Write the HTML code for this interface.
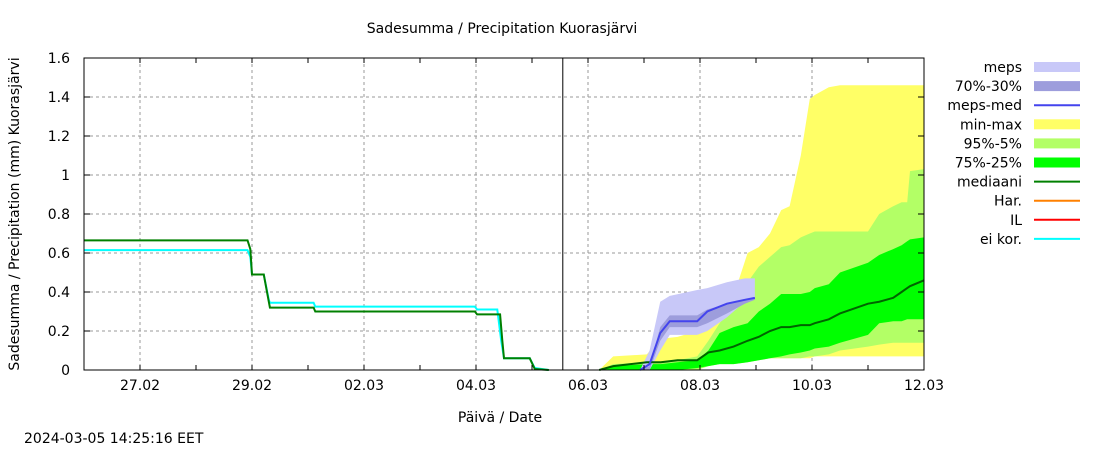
<!DOCTYPE html>
<html><head><meta charset="utf-8"><style>
body{margin:0;background:#fff;}
svg{display:block;font-family:"DejaVu Sans","Liberation Sans",sans-serif;}
</style></head><body>
<svg id="c" width="1100" height="450" viewBox="0 0 1100 450">
<rect width="1100" height="450" fill="#fff"/>
<g id="grid"></g>
<g id="bands"></g>
<g id="lines"></g>
<g id="axes"></g>
<g id="legend"></g>
<text x="502" y="33" font-size="14" text-anchor="middle">Sadesumma / Precipitation  Kuorasjärvi</text>
<text x="500" y="422" font-size="14" text-anchor="middle">Päivä / Date</text>
<text transform="translate(19,214) rotate(-90)" font-size="14" text-anchor="middle">Sadesumma / Precipitation (mm)  Kuorasjärvi</text>
<text x="24" y="443" font-size="14">2024-03-05 14:25:16 EET</text>
</svg>
<script>
// days since 26.02 00:00
const xTickLabels=["27.02","29.02","02.03","04.03","06.03","08.03","10.03","12.03"];
const xTickDays=[1,3,5,7,9,11,13,15];
const yTicks=[0,0.2,0.4,0.6,0.8,1,1.2,1.4,1.6];
const yTickLabels=["0","0.2","0.4","0.6","0.8","1","1.2","1.4","1.6"];
const nowDay=8.55;
const medDays=[0,2.92,2.97,3.0,3.21,3.3,3.32,4.1,4.13,6.98,7.02,7.43,7.47,7.5,7.96,8.05,8.3];
const medVals=[0.665,0.665,0.62,0.49,0.49,0.35,0.32,0.32,0.30,0.30,0.285,0.285,0.15,0.06,0.06,0.005,0];
const eiDays=[0,2.92,2.97,3.0,3.21,3.3,3.32,4.1,4.13,6.98,7.02,7.38,7.45,7.5,7.96,8.05,8.3];
const eiVals=[0.615,0.615,0.58,0.49,0.49,0.36,0.345,0.345,0.325,0.325,0.31,0.31,0.15,0.06,0.06,0.01,0];
const fDays=[9.2,9.45,10.05,10.3,10.6,10.95,11.15,11.35,11.6,11.85,12.05,12.25,12.45,12.6,12.8,12.96,13.05,13.3,13.5,14.0,14.2,14.45,14.6,14.7,14.75,15];
const maxVals=[0,0.07,0.08,0.16,0.17,0.2,0.25,0.3,0.38,0.6,0.63,0.7,0.82,0.84,1.1,1.39,1.41,1.45,1.46,1.46,1.46,1.46,1.46,1.46,1.46,1.46];
const minVals=[0,0,0,0,0,0,0.05,0.05,0.05,0.06,0.06,0.06,0.06,0.06,0.06,0.06,0.07,0.07,0.07,0.07,0.07,0.07,0.07,0.07,0.07,0.07];
const p95Vals=[0,0.03,0.04,0.04,0.05,0.07,0.15,0.24,0.33,0.45,0.53,0.58,0.63,0.64,0.68,0.7,0.71,0.71,0.71,0.71,0.8,0.84,0.86,0.86,1.02,1.03];
const p5Vals=[0,0,0,0,0,0,0.02,0.03,0.03,0.04,0.05,0.06,0.06,0.06,0.06,0.07,0.07,0.08,0.1,0.12,0.13,0.14,0.14,0.14,0.14,0.14];
const p75Vals=[0,0.02,0.03,0.03,0.04,0.05,0.1,0.19,0.22,0.24,0.3,0.34,0.39,0.39,0.39,0.4,0.42,0.44,0.5,0.55,0.59,0.62,0.64,0.66,0.67,0.68];
const p25Vals=[0,0,0,0,0,0.01,0.02,0.03,0.03,0.04,0.05,0.06,0.07,0.08,0.09,0.1,0.11,0.12,0.14,0.18,0.24,0.25,0.25,0.26,0.26,0.26];
const fMedVals=[0,0.02,0.04,0.04,0.05,0.05,0.09,0.1,0.12,0.15,0.17,0.2,0.22,0.22,0.23,0.23,0.24,0.26,0.29,0.34,0.35,0.37,0.4,0.42,0.43,0.46];
const mDays=[9.93,10.1,10.29,10.46,10.95,11.13,11.48,11.8,11.98];
const mMaxVals=[0,0.1,0.35,0.38,0.41,0.42,0.45,0.47,0.47];
const mMinVals=[0,0,0.1,0.18,0.18,0.2,0.27,0.35,0.37];
const m70Vals=[0,0.02,0.22,0.28,0.28,0.31,0.34,0.36,0.37];
const m30Vals=[0,0,0.15,0.22,0.22,0.24,0.29,0.34,0.36];
const mMedVals=[0,0.03,0.19,0.25,0.25,0.3,0.34,0.36,0.37];

const NS="http://www.w3.org/2000/svg";
const X0=84,X1=924,Y0=370,Y1=58;
const xs=d=>X0+d*(X1-X0)/15;
const ys=v=>Y0-v*(Y0-Y1)/1.6;
function mk(t,a,p){const e=document.createElementNS(NS,t);for(const k in a)e.setAttribute(k,a[k]);document.getElementById(p).appendChild(e);return e;}
xTickDays.forEach((d,i)=>{
 if(d<15){const g=mk('line',{x1:xs(d),x2:xs(d),y1:Y1,y2:Y0,stroke:'#999','stroke-dasharray':'3,3'},'grid');
 
 }
 const t=mk('text',{x:xs(d),y:Y0+20,'font-size':14,'text-anchor':'middle'},'axes');t.textContent=xTickLabels[i];
 
 
});
for(let d=0;d<=15;d++){mk('line',{x1:xs(d),x2:xs(d),y1:Y0,y2:Y0-5,stroke:'#000'},'axes');mk('line',{x1:xs(d),x2:xs(d),y1:Y1,y2:Y1+5,stroke:'#000'},'axes');}
yTicks.forEach((v,i)=>{
 if(v>0&&v<1.6){const g=mk('line',{x1:X0,x2:X1,y1:ys(v),y2:ys(v),stroke:'#999','stroke-dasharray':'3,3'},'grid');
 
 }
 mk('line',{x1:X0,x2:X0+6,y1:ys(v),y2:ys(v),stroke:'#000'},'axes');
 mk('line',{x1:X1-6,x2:X1,y1:ys(v),y2:ys(v),stroke:'#000'},'axes');
 const t=mk('text',{x:X0-14,y:ys(v)+5,'font-size':14,'text-anchor':'end'},'axes');t.textContent=yTickLabels[i];
 
 
});
function band(days,lo,hi,fill,name){
 let p=days.map((d,i)=>xs(d)+','+ys(hi[i])).join(' ')+' '+days.map((d,i)=>xs(d)+','+ys(lo[i])).reverse().join(' ');
 const e=mk('polygon',{points:p,fill:fill},'bands');
 
 
}
function line(days,vals,col,w,name){
 const pts=days.map((d,i)=>xs(d)+','+ys(vals[i]));
 const e=mk('polyline',{points:pts.join(' '),fill:'none',stroke:col,'stroke-width':w},'lines');
 
 
}
band(fDays,minVals,maxVals,'#ffff66','min-max-band');
band(fDays,p5Vals,p95Vals,'#b3ff66','p95-p5-band');
band(fDays,p25Vals,p75Vals,'#00ff00','p75-p25-band');
band(mDays,mMinVals,mMaxVals,'#c8c8f8','meps-band');
band(mDays,m30Vals,m70Vals,'#9d9ddc','meps-70-30-band');
line(eiDays,eiVals,'#00ffff',2,'ei-kor-line');
line(medDays,medVals,'#008000',2,'observed-median-line');
line(fDays,fMedVals,'#006400',2,'forecast-median-line');
line(mDays,mMedVals,'#4444ee',2,'meps-median-line');
const nl=mk('line',{x1:xs(nowDay),x2:xs(nowDay),y1:Y1,y2:Y0,stroke:'#000','stroke-width':1},'axes');


const fr=mk('rect',{x:X0,y:Y1,width:X1-X0,height:Y0-Y1,fill:'none',stroke:'#000','stroke-width':1},'axes');


const legLabels=["meps","70%-30%","meps-med","min-max","95%-5%","75%-25%","mediaani","Har.","IL","ei kor."];
const legCols=["#c8c8f8","#9d9ddc","#4444ee","#ffff66","#b3ff66","#00ff00","#008000","#ff8000","#ff0000","#00ffff"];
const legBox=[1,1,0,1,1,1,0,0,0,0];
legLabels.forEach((l,i)=>{
 const y=67+i*19.1;
 const t=mk('text',{x:1022,y:y+5,'font-size':14,'text-anchor':'end'},'legend');t.textContent=l;
 
 
 const s=legBox[i]?mk('rect',{x:1034,y:y-5,width:46,height:10,fill:legCols[i]},'legend'):mk('line',{x1:1034,x2:1080,y1:y,y2:y,stroke:legCols[i],'stroke-width':2},'legend');
 
 
});
</script>
</body></html>
